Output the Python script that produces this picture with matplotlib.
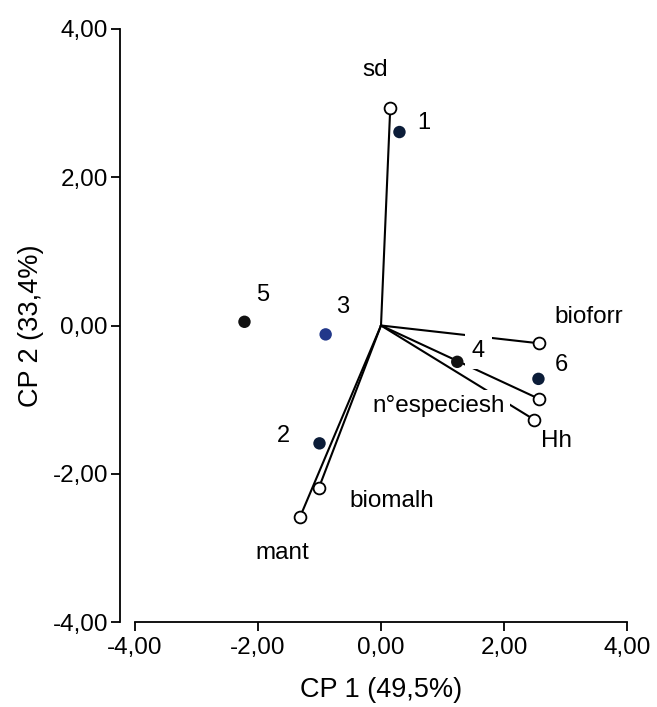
"""
Biplot CP1 x CP2 (PCA): variables como vetores, áreas como pontos
"""

import matplotlib
matplotlib.use('Agg')
import matplotlib.pyplot as plt

plt.rcParams['font.family'] = ['Liberation Sans', 'DejaVu Sans']

# variáveis (vetores)
var_names = ['sd', 'bioforr', 'n°especiesh', 'Hh', 'biomalh', 'mant']
var_x = [0.15, 2.57, 2.57, 2.49, -1.01, -1.32]
var_y = [2.93, -0.24, -0.99, -1.27, -2.19, -2.59]

# áreas (escores)
site_names = ['1', '2', '3', '4', '5', '6']
site_x = [0.30, -1.00, -0.90, 1.24, -2.22, 2.56]
site_y = [2.61, -1.59, -0.12, -0.49, 0.05, -0.72]
site_colors = ['#0b1c38', '#0b1c38', '#22388a', '#111111', '#111111', '#0b1c38']

axis_ticks = [-4, -2, 0, 2, 4]

# deslocamento dos rótulos (pixels)
var_offsets = [(-15, 38), (50, 26), (-100, -7), (22, -21), (73, -13), (-18, -36)]
site_offsets = [(24, 9), (-36, 7), (17, 27), (21, 11), (18, 27), (23, 14)]

fig = plt.figure(figsize=(6.57, 7.07), dpi=100)
ax = fig.add_axes([135 / 657, 1 - 622 / 707, 492 / 657, 593 / 707])

for x, y in zip(var_x, var_y):
    ax.plot([0, x], [0, y], color='black', lw=1.5, zorder=2)
ax.plot(var_x, var_y, 'o', ms=8.5, mfc='white', mec='black', mew=1.3, zorder=5)

ax.scatter(site_x, site_y, s=80, c=site_colors, zorder=6, linewidths=0)

for name, x, y, off in zip(var_names, var_x, var_y, var_offsets):
    bb = None
    if name == 'n°especiesh':
        bb = dict(boxstyle='square,pad=0.2', fc='white', ec='none')
    ax.annotate(name, (x, y), xytext=off, textcoords='offset pixels',
                bbox=bb, zorder=4, fontsize=17.5, ha='center', va='center')

for name, x, y, off in zip(site_names, site_x, site_y, site_offsets):
    bb = None
    if name == '4':
        bb = dict(boxstyle='square,pad=0.3', fc='white', ec='none')
    ax.annotate(name, (x, y), xytext=off, textcoords='offset pixels',
                bbox=bb, zorder=4, fontsize=17, ha='center', va='center')

ax.set_xlim(-4, 4)
ax.set_ylim(-4, 4)
ax.set_xticks(axis_ticks)
ax.set_yticks(axis_ticks)
ax.set_xticklabels([f'{t:.2f}'.replace('.', ',') for t in axis_ticks])
ax.set_yticklabels([f'{t:.2f}'.replace('.', ',') for t in axis_ticks])

for s in ['top', 'right']:
    ax.spines[s].set_visible(False)
ax.spines['left'].set_position(('outward', 11))
ax.spines['left'].set_linewidth(1.3)
ax.spines['bottom'].set_linewidth(1.3)
ax.tick_params(axis='both', direction='out', length=6.5, width=1.3, labelsize=17.5)
ax.tick_params(axis='x', pad=4)
ax.tick_params(axis='y', pad=2)

ax.set_xlabel('CP 1 (49,5%)', fontsize=19.5, labelpad=13)
ax.set_ylabel('CP 2 (33,4%)', fontsize=19.5, labelpad=6)

fig.savefig('out.png', dpi=100, facecolor='white')
